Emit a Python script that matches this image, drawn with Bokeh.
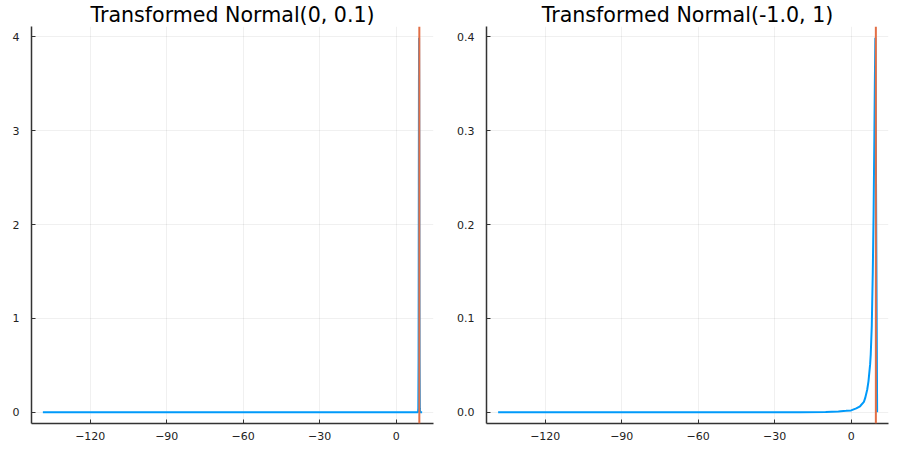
from bokeh.plotting import figure
from bokeh.layouts import row
from bokeh.models import Span, FixedTicker, Range1d
from bokeh.embed import file_html
from bokeh.resources import INLINE

# values
left_title = "Transformed Normal(0, 0.1)"
left_x = [-138.6, 8.6, 8.7, 8.8, 8.85, 8.9, 8.95, 9.0, 9.05, 9.1, 9.15, 9.2, 9.3, 9.4, 10.2]
left_y = [0.0, 0.0, 0.044, 0.54, 1.30, 2.42, 3.52, 3.99, 3.52, 2.42, 1.30, 0.54, 0.044, 0.0, 0.0]
left_vline = 9.1

right_title = "Transformed Normal(-1.0, 1)"
right_x = [-138.5, -40.0, -20.0, -10.0, -5.0, -2.0, 0.0, 2.0, 3.5, 5.0, 5.5, 6.3, 6.8,
           7.45, 7.7, 8.1, 8.5, 8.8, 9.1, 9.3, 9.5, 10.2]
right_y = [0.0, 0.0, 0.0001, 0.0004, 0.0008, 0.0015, 0.002, 0.0042, 0.0064, 0.011, 0.015,
           0.024, 0.033, 0.051, 0.062, 0.092, 0.15, 0.21, 0.29, 0.35, 0.399, 0.0]
right_vline = 9.7

x_ticks = [-120, -90, -60, -30, 0]
x_tick_labels = ["\u2212120", "\u221290", "\u221260", "\u221230", "0"]
left_y_ticks = [0, 1, 2, 3, 4]
left_y_labels = ["0", "1", "2", "3", "4"]
right_y_ticks = [0.0, 0.1, 0.2, 0.3, 0.4]
right_y_labels = ["0.0", "0.1", "0.2", "0.3", "0.4"]

BLUE = "#009AFA"
ORANGE = "#E26F46"
FONT = "DejaVu Sans"


def panel(title, xs, ys, vline, yticks, ylabels, ytop, border_left, border_right):
    p = figure(width=450, height=450, output_backend="svg", toolbar_location=None,
               x_range=Range1d(-143.06, 14.66), y_range=Range1d(-0.03 * ytop, 1.03 * ytop),
               min_border_left=border_left, min_border_right=border_right,
               min_border_top=10, min_border_bottom=27)
    p.title.text = title
    p.title.align = "center"
    p.title.text_font = FONT
    p.title.text_font_size = "20.6px"
    p.title.text_font_style = "normal"
    p.title.text_color = "#000000"
    p.title.standoff = 0
    p.outline_line_color = None
    p.background_fill_color = "white"
    p.border_fill_color = "white"

    p.line(xs, ys, line_color=BLUE, line_width=2)
    p.add_layout(Span(location=vline, dimension="height", line_color=ORANGE, line_width=2))

    p.xaxis.ticker = FixedTicker(ticks=x_ticks)
    p.xaxis.major_label_overrides = dict(zip(x_ticks, x_tick_labels))
    p.yaxis.ticker = FixedTicker(ticks=yticks)
    p.yaxis.major_label_overrides = dict(zip(yticks, ylabels))
    p.xaxis.major_label_standoff = 8
    p.yaxis.major_label_standoff = 12
    for ax in (p.xaxis, p.yaxis):
        ax.axis_line_color = "#333333"
        ax.axis_line_width = 1.5
        ax.major_tick_in = 4
        ax.major_tick_out = 0
        ax.major_tick_line_color = "#333333"
        ax.minor_tick_line_color = None
        ax.major_label_text_font = FONT
        ax.major_label_text_font_size = "11px"
        ax.major_label_text_color = "#222222"
    p.grid.grid_line_color = "black"
    p.grid.grid_line_alpha = 0.06
    p.grid.grid_line_width = 1
    return p


p1 = panel(left_title, left_x, left_y, left_vline, left_y_ticks, left_y_labels, 3.99, 31, 17)
p2 = panel(right_title, right_x, right_y, right_vline, right_y_ticks, right_y_labels, 0.399, 36, 12)

p = row(p1, p2)
open("out.html", "w").write(file_html(p, INLINE))
